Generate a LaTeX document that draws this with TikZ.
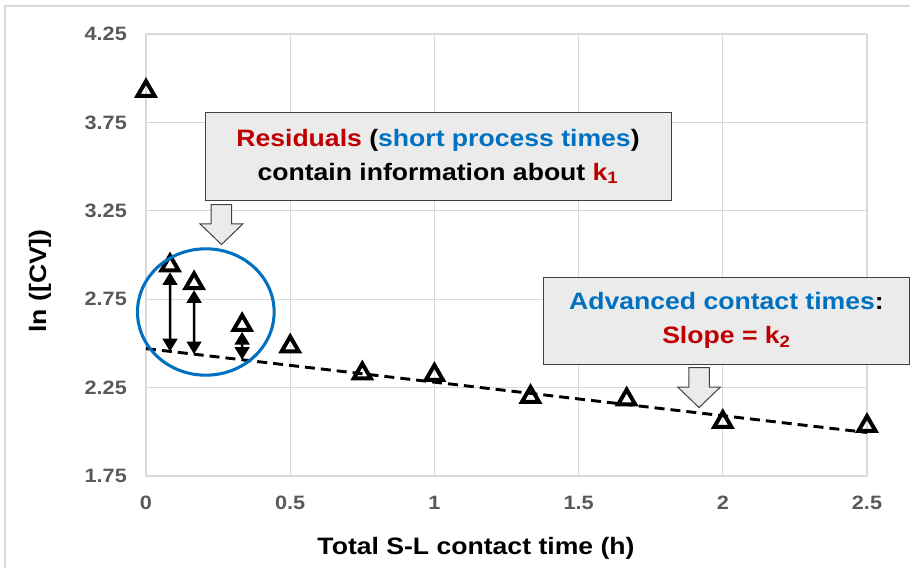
\documentclass[tikz,border=0pt]{standalone}
\usepackage{fontspec}
\setmainfont{Liberation Sans}[FakeStretch=1.12]
\usetikzlibrary{shapes.geometric,arrows.meta}

\definecolor{gridgray}{RGB}{217,217,217}
\definecolor{tickgray}{RGB}{89,89,89}
\definecolor{boxfill}{RGB}{235,235,235}
\definecolor{boxedge}{RGB}{64,64,64}
\definecolor{xlred}{RGB}{192,0,0}
\definecolor{xlblue}{RGB}{0,112,192}

\begin{document}
\begin{tikzpicture}[
    x=216.3pt, y=132.6pt,
    grid/.style={gridgray, line width=1pt},
    ticklabel/.style={text=tickgray, font=\fontsize{14.5}{16}\selectfont\bfseries, inner sep=0pt},
    axistitle/.style={font=\fontsize{17.8}{20}\selectfont\bfseries, inner sep=0pt},
    marker/.style={draw, regular polygon, regular polygon sides=3, minimum size=14.7pt,
                   inner sep=0pt, line width=3pt, yshift=-1.8pt},
    fitline/.style={dash pattern=on 7.5pt off 4.5pt, line width=2.2pt},
    resid/.style={line width=1.9pt, {Triangle[length=9.5pt,width=11pt]}-{Triangle[length=9.5pt,width=11pt]}},
    notebox/.style={draw=boxedge, fill=boxfill, line width=0.75pt, align=center, inner sep=0pt,
                    minimum height=65.25pt, font=\fontsize{17.8}{25.5}\selectfont\bfseries},
    callout/.pic={\draw[boxedge, fill=boxfill, line width=0.75pt]
        (-7.7pt,0) -- (7.7pt,0) -- (7.7pt,-14.6pt) -- (16pt,-14.6pt) -- (0,-30pt)
        -- (-16pt,-14.6pt) -- (-7.7pt,-14.6pt) -- cycle;}
]
\useasboundingbox (-0.50624,1.22964) rectangle (2.64910,4.44231);

% chart frame
\draw[grid] (-0.4889,1.22964) -- (-0.4889,4.4084) -- (2.6491,4.4084);

% grid and tick labels
\foreach \v [count=\i] in {1.75,2.25,2.75,3.25,3.75,4.25} {
    \draw[grid] (0,\v) -- (2.5,\v);
    \node[ticklabel, anchor=east] (ylab\i) at ([xshift=-14.2pt]0,\v) {\v};
}
\foreach \v [count=\i] in {0,0.5,1,1.5,2,2.5} {
    \draw[grid] (\v,1.75) -- (\v,4.25);
    \node[ticklabel] (xlab\i) at ([yshift=-20pt]\v,1.75) {\v};
}

\node[axistitle] (xtitle) at (1.1442,1.3428) {Total S-L contact time (h)};
\node[axistitle, rotate=90] (ytitle) at (-0.3675,2.853) {ln ([CV])};

% linear fit for the long contact times
\coordinate (fit0) at (0,2.4706);
\coordinate (fit1) at (2.5,1.996);
\draw[fitline] (fit0) -- (fit1);
\path (fit0) -- (fit1) coordinate[pos=0.03333] (r2) coordinate[pos=0.06667] (r3)
                       coordinate[pos=0.13333] (r4);

% measured points
\foreach \tx/\ty [count=\i] in {0/3.9417, 0.0833/2.9548, 0.1667/2.854, 0.3333/2.618,
        0.5/2.4966, 0.75/2.3439, 1/2.3354, 1.3333/2.211, 1.6667/2.1968, 2/2.0696, 2.5/2.047}
    \node[marker] (p\i) at (\tx,\ty) {};

% residuals
\draw[resid] (p2.south) -- (r2);
\draw[resid] (p3.south) -- (r3);
\draw[resid] (p4.south) -- (r4);

\node[draw=xlblue, line width=2.3pt, ellipse, inner sep=0pt,
      minimum width=102.5pt, minimum height=94.8pt] (zone) at (0.2074,2.6776) {};

% notes
\node[notebox, minimum width=349.5pt] (resbox) at (1.0125,3.5571)
    {\textcolor{xlred}{Residuals} (\textcolor{xlblue}{short process times})\\
     contain information about \textcolor{xlred}{k\textsubscript{1}}};
\pic at ([xshift=-162.4pt, yshift=-3pt]resbox.south) {callout};

\node[notebox, minimum width=273.75pt] (slopebox) at (2.0128,2.6295)
    {\textcolor{xlblue}{Advanced contact times}:\\
     \textcolor{xlred}{Slope = k\textsubscript{2}}};
\pic at ([xshift=-20.6pt, yshift=-2.3pt]slopebox.south) {callout};

\end{tikzpicture}
\end{document}
